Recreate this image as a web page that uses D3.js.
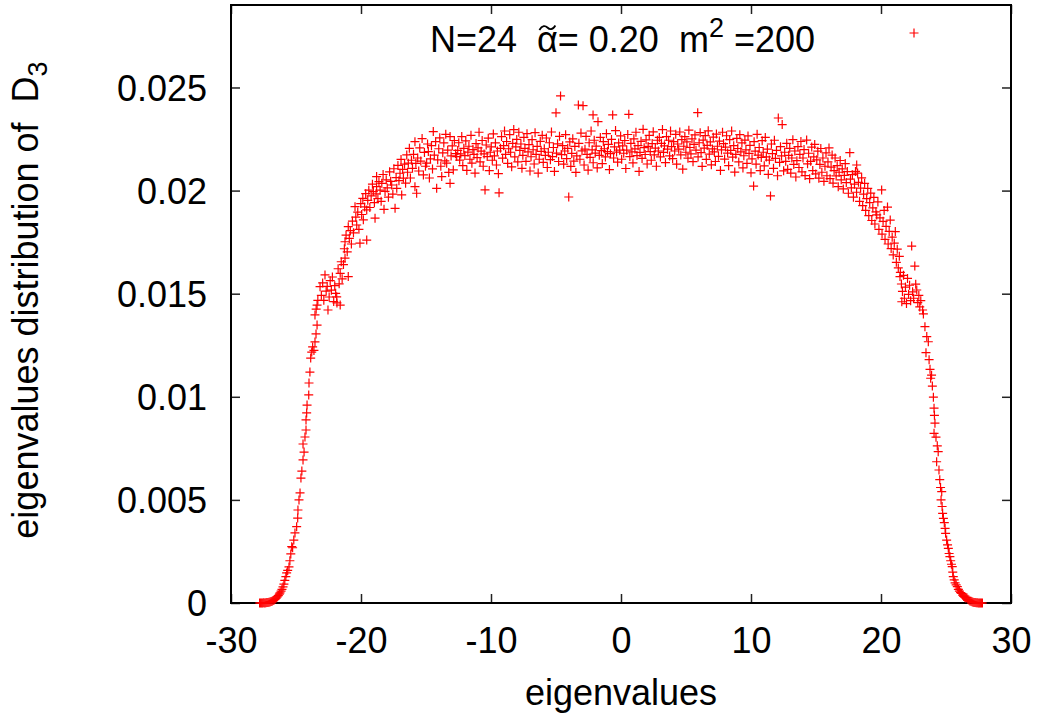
<!DOCTYPE html>
<html>
<head>
<meta charset="utf-8">
<script src="https://cdn.jsdelivr.net/npm/d3@7"></script>
<style>
html,body{margin:0;padding:0;background:#fff;}
svg text{font-family:"Liberation Sans",Arial,Helvetica,sans-serif;}
</style>
</head>
<body>
<svg id="chart" width="1042" height="723"></svg>
<script>
// ---- data (eigenvalue, density) ----
const leftTail = [
[-27.80,0],[-27.72,0],[-27.64,0],[-27.56,0],[-27.48,0.00001],[-27.40,0],[-27.32,0.00001],[-27.24,0.00002],
[-27.16,0.00002],[-27.08,0.00004],[-27.00,0.00005],[-26.92,0.00007],[-26.84,0.00009],[-26.76,0.00012],
[-26.68,0.00015],[-26.60,0.00019],[-26.52,0.00024],[-26.44,0.00030],[-26.36,0.00036],[-26.28,0.00043],
[-26.23,0.00049],[-26.15,0.00058],[-26.08,0.00066],[-26.00,0.00078],[-25.93,0.00092],[-25.86,0.00110],
[-25.78,0.00128],[-25.72,0.00146],[-25.64,0.00158],[-25.54,0.00175],[-25.47,0.00205],[-25.40,0.00238],
[-25.33,0.00273],[-25.26,0.00268],[-25.17,0.00305],[-25.08,0.00340],[-24.95,0.00370],[-24.87,0.00412],
[-24.85,0.00451],[-24.77,0.00500],[-24.69,0.00534],[-24.62,0.00606],[-24.55,0.00640],[-24.46,0.00694],
[-24.38,0.00732],[-24.46,0.00771],[-24.31,0.00805],[-24.23,0.00839],[-24.23,0.00888],[-24.18,0.00922],
[-24.15,0.00960],[-24.02,0.01009],[-24.00,0.01067],[-23.93,0.01120],[-23.87,0.01188],[-23.79,0.01217],
[-23.72,0.01242],[-23.62,0.01225],[-23.54,0.01266],[-23.46,0.01305],[-23.38,0.01348],[-23.54,0.01397],
[-23.45,0.01425],[-23.38,0.01445],[-23.32,0.01468]
];
const leftShoulder = [
[-23.15,.01534],[-23.05,.01492],[-22.95,.01552],[-22.86,.01468],[-22.77,.01591],[-22.68,.01512],[-22.60,.01535],
[-22.54,.01421],[-22.45,.01484],[-22.37,.01563],[-22.28,.01517],[-22.20,.01581],[-22.10,.01462],[-22.02,.01539],
[-21.95,.01502],[-21.87,.01485],[-21.85,.01455],[-21.76,.01621],[-21.68,.01548],[-21.60,.01599],[-21.60,.01445],
[-21.52,.01655],[-21.45,.01572],[-21.35,.01641],[-21.28,.01718],[-21.23,.01672],[-21.23,.01752],[-21.15,.01784],
[-21.06,.01703],[-20.98,.01583],[-20.98,.01825],[-20.90,.01768],[-20.82,.01806],[-20.74,.01741],[-20.66,.01852],
[-20.58,.01795],[-20.46,.01922],[-20.40,.01871],[-20.33,.01833],[-20.25,.01896],[-20.16,.01812],[-20.08,.01745],
[-20.02,.01937],[-19.95,.01884],[-19.86,.01962],[-19.82,.01858],[-19.72,.01921],[-19.64,.01985],[-19.56,.01760],
[-19.56,.01906],[-19.48,.01953],[-19.40,.02002],[-19.32,.01918],[-19.22,.01974],[-19.12,.02031],[-19.05,.01995],
[-18.97,.01942],[-18.92,.01866],[-18.84,.01984],[-18.80,.02019],[-18.80,.02068],[-18.70,.01961],[-18.62,.02043],
[-18.53,.02002],[-18.45,.01948],[-18.40,.02035],[-18.30,.02078],[-18.23,.01909],[-18.15,.01996],[-18.06,.02052],
[-17.98,.02013],[-17.89,.01968],[-17.80,.02091],[-17.72,.02045],[-17.64,.02027],[-17.55,.01983],[-17.47,.02106],
[-17.38,.01914],[-17.30,.02063],[-17.25,.02011],[-17.16,.02122],[-17.08,.02048],[-17.00,.02084],[-16.92,.02151],
[-16.87,.01979],[-16.80,.02103],[-16.74,.02060],[-16.65,.02128],[-16.57,.02036],[-16.48,.02173],[-16.42,.02089],
[-16.36,.02133],[-16.28,.02205],[-16.20,.02061],[-16.12,.02147],[-16.04,.02108],[-15.96,.02176],[-15.85,.02019],
[-15.85,.02237],[-15.78,.02132],[-15.72,.01987],[-15.64,.02158],[-15.56,.02095],[-15.48,.02207],[-15.40,.02143],
[-15.30,.02252],[-15.20,.02076],[-15.12,.02185],[-15.04,.02118],[-14.95,.02133],[-14.88,.02226],[-14.82,.02189],
[-14.74,.02061],[-14.66,.02154],[-14.58,.02218],[-14.50,.02105],[-14.44,.02286],[-14.36,.02172],[-14.26,.02237],
[-14.18,.02011],[-14.10,.02149],[-14.02,.02203],[-13.94,.02256],[-13.86,.02118],[-13.79,.02068],[-13.71,.02183],
[-13.63,.02231],[-13.55,.02144],[-13.48,.02273],[-13.41,.02133],[-13.33,.02196],[-13.25,.02088],[-13.15,.02035],
[-13.15,.02262],[-13.07,.02168],[-12.98,.02217],[-12.90,.02100],[-12.82,.02243],[-12.72,.02179],[-12.64,.02165]
];
const core = [
[-12.56,.02195],[-12.48,.02232],[-12.41,.02148],[-12.33,.02178],[-12.25,.02262],[-12.17,.02121],[-12.09,.02205],
[-12.01,.02170],[-11.94,.02241],[-11.86,.02098],[-11.78,.02187],[-11.70,.02215],[-11.62,.02152],[-11.54,.02268],
[-11.47,.02133],[-11.39,.02199],[-11.31,.02176],[-11.23,.02085],[-11.15,.02228],[-11.07,.02160],[-11.00,.02207],
[-10.92,.02283],[-10.84,.02139],[-10.76,.02191],[-10.68,.02243],[-10.60,.02118],[-10.53,.02178],[-10.46,.02003],
[-10.37,.02221],[-10.29,.02165],[-10.21,.02254],[-10.13,.02097],[-10.06,.02186],[-9.98,.02212],[-9.90,.02147],
[-9.82,.02275],[-9.74,.02168],[-9.66,.02231],[-9.58,.02124],[-9.51,.02192],[-9.43,.02082],[-9.38,.01989],
[-9.27,.02205],[-9.19,.02262],[-9.11,.02157],[-9.03,.02218],[-8.96,.02289],[-8.88,.02176],[-8.80,.02238],
[-8.72,.02132],[-8.64,.02203],[-8.56,.02271],[-8.49,.02186],[-8.41,.02115],[-8.33,.02229],[-8.25,.02296],
[-8.17,.02163],[-8.09,.02212],[-8.02,.02248],[-7.94,.02139],[-7.86,.02283],[-7.78,.02195],[-7.70,.02226],
[-7.62,.02108],[-7.55,.02171],[-7.47,.02258],[-7.39,.02205],[-7.31,.02142],[-7.23,.02276],[-7.15,.02188],
[-7.08,.02223],[-7.00,.02095],[-6.92,.02164],[-6.84,.02247],[-6.76,.02198],[-6.68,.02129],[-6.61,.02281],
[-6.53,.02176],[-6.45,.02214],[-6.37,.02085],[-6.29,.02152],[-6.21,.02239],[-6.14,.02190],[-6.06,.02268],
[-5.98,.02137],[-5.90,.02203],[-5.82,.02171],[-5.74,.02255],[-5.67,.02112],[-5.59,.02186],[-5.51,.02232],
[-5.43,.02150],[-5.35,.02284],[-5.27,.02165],[-5.20,.02209],[-5.12,.02093],[-5.00,.02377],[-4.96,.02182],
[-4.88,.02227],[-4.80,.02141],[-4.73,.02263],[-4.65,.02459],[-4.57,.02174],[-4.49,.02218],[-4.41,.02128],
[-4.33,.02192],[-4.26,.02271],[-4.18,.02155],[-4.10,.02205],[-4.02,.01969],[-3.94,.02236],[-3.86,.02117],
[-3.79,.02180],[-3.71,.02251],[-3.63,.02143],[-3.55,.02214],[-3.47,.02088],[-3.40,.02168],[-3.28,.02415],
[-3.24,.02229],[-3.16,.02152],[-3.08,.02279],[-3.00,.02193],[-2.92,.02412],[-2.84,.02124],[-2.77,.02201],
[-2.69,.02263],[-2.61,.02176],[-2.53,.02099],[-2.45,.02232],[-2.38,.02161],[-2.30,.02289],[-2.22,.02197],
[-2.15,.02367],[-2.14,.02135],[-2.06,.02244],[-1.98,.02182],[-1.91,.02216],[-1.83,.02110],[-1.77,.02334],
[-1.67,.02171],[-1.59,.02258],[-1.51,.02194],[-1.44,.02131],[-1.36,.02237],[-1.28,.02203],[-1.20,.02163],
[-1.12,.02276],[-1.04,.02189],[-0.97,.02224],[-0.89,.02102],[-0.81,.02179],[-0.73,.02248],[-0.64,.02367],
[-0.57,.02158],[-0.50,.02212],[-0.42,.02291],[-0.34,.02187],[-0.26,.02138],[-0.18,.02231],[-0.10,.02196],
[-0.03,.02265],[0.05,.02152],[0.13,.02217],[0.21,.02181],[0.29,.02243],[0.37,.02107],[0.44,.02196],
[0.52,.02272],[0.60,.02370],[0.68,.02165],[0.76,.02229],[0.84,.02188],[0.92,.02134],[0.99,.02251],
[1.07,.02202],[1.15,.02283],[1.23,.02170],[1.31,.02218],[1.39,.02093],[1.46,.02185],[1.54,.02239],
[1.62,.02156],[1.70,.02297],[1.78,.02208],[1.86,.02175],[1.93,.02246],[2.01,.02129],[2.09,.02214],
[2.17,.02268],[2.25,.02189],[2.33,.02147],[2.40,.02228],[2.48,.02285],[2.56,.02173],[2.64,.02206],
[2.72,.02118],[2.80,.02244],[2.87,.02192],[2.95,.02258],[3.03,.02163],[3.11,.02229],[3.19,.02296],
[3.27,.02185],[3.34,.02217],[3.42,.02136],[3.50,.02262],[3.58,.02201],[3.66,.02244],[3.74,.02168],
[3.81,.02289],[3.89,.02213],[3.97,.02155],[4.05,.02237],[4.13,.02192],[4.21,.02273],[4.28,.02128],
[4.36,.02226],[4.44,.02201],[4.52,.02284],[4.60,.02173],[4.68,.02247],[4.75,.02104],[4.83,.02215],
[4.91,.02262],[4.99,.02186],[5.07,.02236],[5.15,.02157],[5.22,.02293],[5.30,.02209],[5.38,.02178],
[5.46,.02251],[5.54,.02140],[5.62,.02224],[5.69,.02270],[5.77,.02196],[5.90,.02378],[5.93,.02163],
[6.01,.02232],[6.09,.02281],[6.16,.02184],[6.24,.02117],[6.32,.02245],[6.40,.02206],[6.48,.02267],
[6.56,.02151],[6.63,.02219],[6.71,.02290],[6.79,.02177],[6.87,.02236],[6.95,.02125],[7.03,.02202],
[7.10,.02259],[7.18,.02188],[7.26,.02141],[7.34,.02274],[7.42,.02215],[7.50,.02166],[7.57,.02240],
[7.65,.02098],[7.73,.02197],[7.81,.02283],[7.89,.02228],[7.97,.02153],[8.04,.02211],[8.12,.02266],
[8.20,.02182],[8.28,.02121],[8.36,.02247],[8.44,.02195],[8.51,.02289],[8.59,.02162],[8.67,.02218],
[8.75,.02090],[8.83,.02176],[8.91,.02253],[8.98,.02204],[9.06,.02139],[9.14,.02271],[9.22,.02188],
[9.30,.02231],[9.38,.02110],[9.45,.02169],[9.53,.02245],[9.61,.02197],[9.69,.02132],[9.77,.02265],
[9.85,.02180],[9.92,.02219],[10.00,.02086],[10.08,.02154],[10.20,.02022],[10.24,.02237],[10.32,.02191],
[10.39,.02128],[10.47,.02273],[10.55,.02172],[10.63,.02209],[10.71,.02097],[10.79,.02161],[10.86,.02242],
[10.94,.02186],[11.02,.02120],[11.10,.02258],[11.18,.02163],[11.26,.02201],[11.33,.02079],[11.41,.02148],
[11.50,.01974],[11.57,.02226],[11.65,.02179],[11.73,.02108],[11.80,.02244],[11.88,.02156],[11.96,.02195],
[12.04,.02072],[12.10,.02352],[12.20,.02137],[12.27,.02213],[12.35,.02168],[12.40,.02320],[12.51,.02096],
[12.59,.02186]
];
const rightShoulder = [
[12.67,.02142],[12.75,.02229],[12.82,.02103],[12.90,.02171],[12.98,.02205],[13.06,.02085],[13.14,.02158],
[13.22,.02247],[13.29,.02127],[13.37,.02192],[13.45,.02066],[13.53,.02145],[13.61,.02213],[13.69,.02112],
[13.76,.02176],[13.84,.02238],[13.92,.02091],[14.00,.02158],[14.08,.02199],[14.16,.02073],[14.28,.02245],
[14.35,.02130],[14.43,.02181],[14.51,.02058],[14.59,.02142],[14.67,.02211],[14.75,.02097],[14.83,.02163],
[14.90,.02224],[14.98,.02081],[15.06,.02149],[15.14,.02191],[15.22,.02060],[15.30,.02127],[15.37,.02204],
[15.45,.02089],[15.53,.02158],[15.61,.02045],[15.69,.02118],[15.77,.02183],[15.84,.02072],[15.92,.02139],
[16.00,.02207],[16.08,.02058],[16.16,.02114],[16.24,.02172],[16.31,.02036],[16.39,.02097],[16.47,.02158],
[16.55,.02071],[16.63,.02121],[16.71,.02019],[16.78,.02089],[16.86,.02146],[16.94,.02052],[17.02,.02105],
[17.10,.02008],[17.18,.02074],[17.25,.02131],[17.33,.02039],[17.41,.02092],[17.49,.01987],[17.60,.02184],
[17.65,.02056],[17.72,.02013],[17.80,.02077],[17.88,.01968],[17.96,.02031],[18.04,.02093],[18.13,.02124],
[18.12,.01992],[18.20,.02085],[18.27,.02040],[18.35,.01948],[18.43,.02012],[18.51,.02062],[18.59,.01927],
[18.66,.01983],[18.74,.02035],[18.82,.01904],[18.90,.01961],[18.98,.02011],[19.06,.01879],[19.13,.01942],
[19.21,.01988],[19.29,.01855],[19.37,.01916],[19.45,.01967],[19.53,.01838],[19.61,.01897],[19.67,.01882],
[19.76,.01945],[19.84,.01812],[19.92,.01868],[20.05,.02003],[20.08,.01789],[20.16,.01851],[20.24,.01904],
[20.31,.01763],[20.39,.01826],[20.50,.01920],[20.55,.01741],[20.63,.01802],[20.71,.01857],[20.78,.01719],
[20.86,.01774],[20.94,.01688],[21.02,.01745],[21.10,.01801],[21.18,.01652],[21.25,.01716],[21.33,.01625],
[21.41,.01681],[21.46,.01583],[21.49,.01603],[21.57,.01547],[21.60,.01461],[21.65,.01511],[21.73,.01589],
[21.80,.01478],[21.88,.01532],[21.96,.01452],[22.04,.01574],[22.12,.01497],[22.20,.01541],[22.28,.01466],
[22.36,.01731],[22.43,.01509],[22.51,.01478],[22.60,.01634],[22.67,.01546],[22.75,.01518],[22.83,.01457],
[22.91,.01492],[22.98,.01436],[23.06,.01466],[23.20,.01421],[23.26,.01402]
];
const rightTail = [
[23.38,.01340],[23.46,.01214],[23.52,.01292],[23.64,.01267],[23.70,.01180],[23.77,.01133],[23.82,.01090],
[23.89,.01105],[23.95,.01052],[24.03,.00998],[24.08,.00945],[24.11,.00910],[24.15,.00872],[24.08,.00823],
[24.23,.00804],[24.33,.00762],[24.40,.00734],[24.28,.00685],[24.46,.00645],[24.52,.00598],[24.58,.00560],
[24.67,.00540],[24.62,.00500],[24.70,.00468],[24.74,.00435],[24.80,.00410],[24.87,.00390],[24.93,.00362],
[24.97,.00338],[25.05,.00305],[25.12,.00282],[25.18,.00265],[25.24,.00240],[25.30,.00225],[25.36,.00205],
[25.42,.00188],[25.48,.00176],[25.52,.00150],[25.56,.00128],[25.63,.00112],[25.70,.00098],[25.78,.00088],
[25.87,.00079],[25.95,.00066],[26.03,.00058],[26.12,.00050],[26.20,.00047],[26.28,.00038],[26.36,.00032],
[26.44,.00028],[26.52,.00024],[26.60,.00026],[26.68,.00018],[26.76,.00014],[26.84,.00010],[26.92,.00008],
[27.00,.00006],[27.08,.00004],[27.16,.00003],[27.24,.00002],[27.32,.00001],[27.40,.00001],[27.48,0],
[27.56,0],[27.64,0],[27.72,0],[27.80,0]
];

const xTicks = [-30,-20,-10,0,10,20,30];
const xTickLabels = ["-30","-20","-10","0","10","20","30"];
const yTicks = [0,0.005,0.01,0.015,0.02,0.025];
const yTickLabels = ["0","0.005","0.01","0.015","0.02","0.025"];
const xTitle = "eigenvalues";
const yTitle = "eigenvalues distribution of  D";
const yTitleSub = "3";

// ---- drawing ----
const points = [].concat(leftTail, leftShoulder, core, rightShoulder, rightTail);
const svg = d3.select("#chart");
const L = 231, R = 1011, T = 5, B = 603;
const x = d3.scaleLinear().domain([-30,30]).range([L,R]);
const y = d3.scaleLinear().domain([0,0.029]).range([B,T]);
const FS = 36;
const tickLen = 9;

function styleAxis(g, showLabels){
  g.select(".domain").remove();
  g.selectAll(".tick line").attr("stroke","#222").attr("stroke-width",1.5);
  g.selectAll(".tick text").attr("font-size",FS).attr("fill","#000")
    .attr("font-family",'"Liberation Sans",Arial,sans-serif');
  if(!showLabels) g.selectAll(".tick text").remove();
}

svg.append("g").attr("transform",`translate(0,${B})`)
  .call(d3.axisBottom(x).tickValues(xTicks).tickSize(-tickLen).tickPadding(24)
    .tickFormat((d,i)=>xTickLabels[i]))
  .call(g=>styleAxis(g,true));
svg.append("g").attr("transform",`translate(0,${T})`)
  .call(d3.axisTop(x).tickValues(xTicks).tickSize(-tickLen))
  .call(g=>styleAxis(g,false));
svg.append("g").attr("transform",`translate(${L},0)`)
  .call(d3.axisLeft(y).tickValues(yTicks).tickSize(-tickLen).tickPadding(24)
    .tickFormat((d,i)=>yTickLabels[i]))
  .call(g=>styleAxis(g,true))
  .call(g=>g.selectAll(".tick text").attr("dy","0.36em"));
svg.append("g").attr("transform",`translate(${R},0)`)
  .call(d3.axisRight(y).tickValues(yTicks).tickSize(-tickLen))
  .call(g=>styleAxis(g,false));

// frame
svg.append("rect").attr("x",L).attr("y",T).attr("width",R-L).attr("height",B-T)
  .attr("fill","none").attr("stroke","#000").attr("stroke-width",2);

// points
const plus = "M-4.5,0H4.5M0,-4.5V4.5";
svg.append("g").selectAll("path").data(points).join("path")
  .attr("transform",d=>`translate(${x(d[0])},${y(d[1])})`)
  .attr("d",plus).attr("stroke","#ff0000").attr("stroke-width",1.2).attr("fill","none");

// axis titles
svg.append("text").attr("x",(L+R)/2).attr("y",705).attr("text-anchor","middle")
  .attr("font-size",FS).text(xTitle);
const yt = svg.append("text").attr("transform","translate(38,300) rotate(-90)")
  .attr("text-anchor","middle").attr("font-size",FS).style("white-space","pre");
yt.append("tspan").text(yTitle);
yt.append("tspan").attr("font-size",27).attr("dy",9).text(yTitleSub);

// key
const keyBase = 52;
const key = svg.append("text").attr("x",815).attr("y",keyBase).attr("text-anchor","end")
  .attr("font-size",FS).style("white-space","pre");
key.append("tspan").text("N=24  ");
key.append("tspan").text("\u03B1");
key.append("tspan").text("= 0.20  m");
key.append("tspan").attr("font-size",27).attr("dy",-15).text("2");
key.append("tspan").attr("dy",15).text(" =200");
// tilde accent drawn over the alpha
const ext = key.node().getExtentOfChar(6);
const cx = ext.x + ext.width/2;
svg.append("path")
  .attr("d",`M${cx-8},30 C${cx-5},25 ${cx-2},25.5 ${cx},27.5 S${cx+5},30.5 ${cx+8},25.5`)
  .attr("fill","none").attr("stroke","#000").attr("stroke-width",1.8);
svg.append("path").attr("transform","translate(914,33)").attr("d",plus)
  .attr("stroke","#ff0000").attr("stroke-width",1.2).attr("fill","none");
</script>
</body>
</html>
